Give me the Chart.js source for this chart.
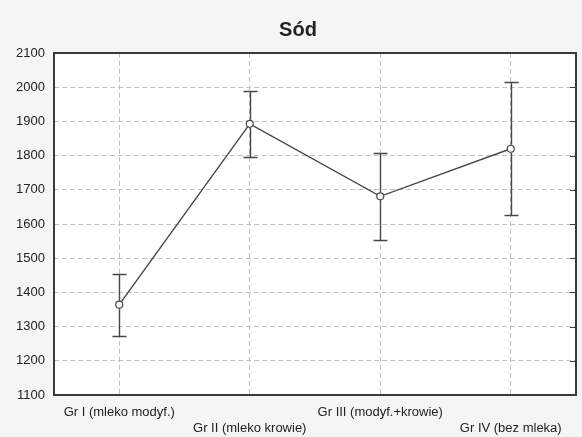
<!DOCTYPE html>
<html>
<head>
<meta charset="utf-8">
<script src="https://cdn.jsdelivr.net/npm/chart.js@4/dist/chart.umd.min.js"></script>
<style>
  html, body { margin: 0; padding: 0; background: #f5f5f5; }
  #wrap { width: 582px; height: 437px; }
</style>
</head>
<body>
<div id="wrap"><canvas id="c" width="582" height="437"></canvas></div>
<script>
// Groups and sodium intake: mean with lower/upper error limits
const groups = ['Gr I (mleko modyf.)', 'Gr II (mleko krowie)', 'Gr III (modyf.+krowie)', 'Gr IV (bez mleka)'];
const means  = [1364, 1893, 1681, 1820];
const lower  = [1272, 1795, 1553, 1627];
const upper  = [1455, 1990, 1807, 2015];
const yTicks = [1100, 1200, 1300, 1400, 1500, 1600, 1700, 1800, 1900, 2000, 2100];

const ink = '#474747';
const font = 'Liberation Sans, Arial, sans-serif';

// Title box starts a little in from the left edge, so the heading sits slightly right of centre
const titleShift = {
  id: 'titleShift',
  afterLayout(chart) {
    const t = chart.titleBlock;
    if (t) { t.left = 20; t.width = t.right - t.left; }
  }
};

// White plot background + full frame + short inward ticks on the right edge
const frame = {
  id: 'frame',
  beforeDraw(chart) {
    const { ctx, chartArea: a } = chart;
    ctx.save();
    ctx.fillStyle = '#ffffff';
    ctx.fillRect(a.left, a.top, a.right - a.left, a.bottom - a.top);
    ctx.restore();
  },
  afterDraw(chart) {
    const { ctx, chartArea: a, scales } = chart;
    ctx.save();
    ctx.strokeStyle = '#3a3a3a';
    ctx.lineWidth = 2;
    ctx.strokeRect(a.left, a.top, a.right - a.left, a.bottom - a.top);
    ctx.lineWidth = 1;
    yTicks.forEach(v => {
      const y = Math.round(scales.y.getPixelForValue(v)) + 0.5;
      ctx.beginPath();
      ctx.moveTo(a.right - 6, y);
      ctx.lineTo(a.right, y);
      ctx.stroke();
    });
    ctx.restore();
  }
};

// Vertical error bars with caps
const errorBars = {
  id: 'errorBars',
  afterDatasetsDraw(chart) {
    const { ctx, scales } = chart;
    ctx.save();
    ctx.strokeStyle = ink;
    ctx.lineWidth = 1.4;
    groups.forEach((g, i) => {
      const x = Math.round(scales.x.getPixelForValue(i)) + 0.5;
      const yHi = Math.round(scales.y.getPixelForValue(upper[i])) + 0.5;
      const yLo = Math.round(scales.y.getPixelForValue(lower[i])) + 0.5;
      const yM = scales.y.getPixelForValue(means[i]);
      ctx.beginPath();
      ctx.moveTo(x, yHi); ctx.lineTo(x, yM - 4);
      ctx.moveTo(x, yM + 4); ctx.lineTo(x, yLo);
      ctx.moveTo(x - 7, yHi); ctx.lineTo(x + 7, yHi);
      ctx.moveTo(x - 7, yLo); ctx.lineTo(x + 7, yLo);
      ctx.stroke();
    });
    ctx.restore();
  }
};

new Chart(document.getElementById('c'), {
  type: 'line',
  data: {
    labels: groups,
    datasets: [{
      data: means,
      borderColor: ink,
      borderWidth: 1.4,
      pointStyle: 'circle',
      pointRadius: 3.5,
      pointBorderWidth: 1.2,
      pointBackgroundColor: '#ffffff',
      pointBorderColor: ink,
      tension: 0
    }]
  },
  options: {
    responsive: false,
    animation: false,
    layout: { padding: { left: 0, right: 6, top: 0, bottom: 0 } },
    plugins: {
      legend: { display: false },
      tooltip: { enabled: false },
      title: {
        display: true,
        text: 'Sód',
        color: '#222222',
        font: { family: font, size: 20, weight: 'bold', lineHeight: 1.2 },
        padding: { top: 18, bottom: 11 }
      }
    },
    scales: {
      x: {
        type: 'category',
        offset: true,
        grid: { color: '#c2c2c2', lineWidth: 1, drawTicks: false, offset: false },
        border: { display: false, dash: [5, 3] },
        ticks: {
          color: '#222222',
          font: { family: font, size: 13, lineHeight: 1.23 },
          maxRotation: 0,
          autoSkip: false,
          padding: 9,
          callback: (v, i) => (i % 2 === 0 ? [groups[i], ''] : ['', groups[i]])
        },
        afterFit: s => { s.height = 42; }
      },
      y: {
        min: 1100,
        max: 2100,
        afterBuildTicks: s => { s.ticks = yTicks.map(v => ({ value: v })); },
        grid: { color: '#c2c2c2', lineWidth: 1, drawTicks: false },
        border: { display: false, dash: [5, 3] },
        ticks: {
          color: '#222222',
          font: { family: font, size: 13 },
          padding: 9,
          callback: v => String(v)
        },
        afterFit: s => { s.width = 54; }
      }
    }
  },
  plugins: [titleShift, frame, errorBars]
});
</script>
</body>
</html>
